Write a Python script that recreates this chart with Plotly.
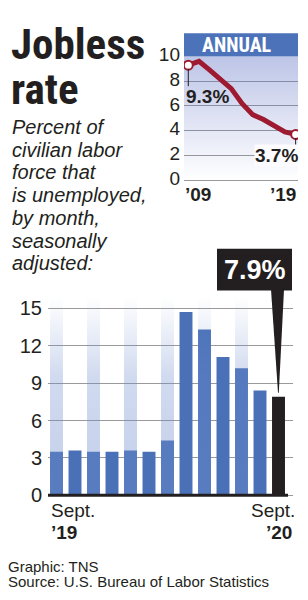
import plotly.graph_objects as go

W, H = 308, 600


def px(x):
    return x / W


def py(y):
    return 1 - y / H


# ---------------- data ----------------
annual_years = list(range(2009, 2020))
annual_rates = [9.3, 9.6, 8.9, 8.1, 7.4, 6.2, 5.3, 4.9, 4.4, 3.9, 3.7]
annual_tick_vals = [0, 2, 4, 6, 8, 10]
annual_x_labels = ["\u201909", "\u201919"]

months = ["Sep 2019", "Oct 2019", "Nov 2019", "Dec 2019", "Jan 2020", "Feb 2020",
          "Mar 2020", "Apr 2020", "May 2020", "Jun 2020", "Jul 2020", "Aug 2020", "Sep 2020"]
monthly_rates = [3.5, 3.6, 3.5, 3.5, 3.6, 3.5, 4.4, 14.7, 13.3, 11.1, 10.2, 8.4, 7.9]
monthly_tick_vals = [0, 3, 6, 9, 12, 15]
month_end_labels = [("Sept.", "\u201919"), ("Sept.", "\u201920")]
latest_label = "7.9%"
first_label = "9.3%"
last_label = "3.7%"

title_lines = ["Jobless", "rate"]
subtitle_lines = ["Percent of", "civilian labor", "force that", "is unemployed,",
                  "by month,", "seasonally", "adjusted:"]
credit_lines = ["Graphic: TNS", "Source: U.S. Bureau of Labor Statistics"]

# ---------------- styles ----------------
INK = "#231f20"
BLUE = "#4a71b8"
RED = "#9d1a30"
GRID = "#9a9a9a"
SANS = "Liberation Sans, Arial, Helvetica, sans-serif"
NARROW = "Liberation Sans Narrow, Arial Narrow, Roboto Condensed, Liberation Sans, sans-serif"

fig = go.Figure()

# ---------- monthly bar chart (x / y) ----------
idx = list(range(len(months)))
bw = 0.70
stripe_top = 15.9
for i in idx[0:11:2]:
    fig.add_trace(go.Scatter(
        x=[i - bw / 2, i + bw / 2, i + bw / 2, i - bw / 2, i - bw / 2],
        y=[0, 0, stripe_top, stripe_top, 0],
        mode="none", fill="toself", hoverinfo="skip", showlegend=False,
        fillgradient=dict(type="vertical",
                          colorscale=[[0, "rgba(110,140,205,0.42)"],
                                      [0.6, "rgba(110,140,205,0.32)"],
                                      [1, "rgba(110,140,205,0.0)"]]),
        xaxis="x", yaxis="y"))

bar_colors = [BLUE] * (len(months) - 1) + [INK]
fig.add_trace(go.Bar(x=idx, y=monthly_rates, width=bw, marker=dict(color=bar_colors, line=dict(width=0)),
                     showlegend=False, hoverinfo="skip", xaxis="x", yaxis="y"))

# ---------- annual line chart (x2 / y2) ----------
x2_range = [2008.6, 2019.22]
fig.add_trace(go.Scatter(
    x=[x2_range[0], x2_range[1], x2_range[1], x2_range[0], x2_range[0]],
    y=[0, 0, 10, 10, 0], mode="none", fill="toself", hoverinfo="skip", showlegend=False,
    fillgradient=dict(type="vertical",
                      colorscale=[[0, "rgba(90,110,195,0.0)"],
                                  [1, "rgba(90,110,195,0.40)"]]),
    xaxis="x2", yaxis="y2"))
fig.add_trace(go.Scatter(x=annual_years, y=annual_rates, mode="lines",
                         line=dict(color=RED, width=5), hoverinfo="skip", showlegend=False,
                         xaxis="x2", yaxis="y2"))
fig.add_trace(go.Scatter(x=[annual_years[0], annual_years[-1]], y=[annual_rates[0], annual_rates[-1]],
                         mode="markers", marker=dict(size=9, color="white", line=dict(color=RED, width=2)),
                         hoverinfo="skip", showlegend=False, xaxis="x2", yaxis="y2"))

shapes = []
annotations = []

# header band of the small chart
shapes.append(dict(type="rect", xref="paper", yref="paper", x0=px(184), x1=px(298), y0=py(46), y1=py(22),
                   fillcolor="#4c73ba", line=dict(width=0), layer="above"))
annotations.append(dict(xref="paper", yref="paper", x=px(237), y=py(34), text="<b>ANNUAL</b>",
                        showarrow=False, font=dict(family=NARROW, size=20, color="white"),
                        xanchor="center", yanchor="middle"))

# leader lines and labels of the small chart
shapes.append(dict(type="line", xref="x2", yref="y2", x0=annual_years[0], x1=annual_years[0],
                   y0=annual_rates[0] - 0.3, y1=7.6, line=dict(color=INK, width=1)))
annotations.append(dict(xref="x2", yref="y2", x=annual_years[0], y=6.8, text="<b>" + first_label + "</b>",
                        showarrow=False, xanchor="left", yanchor="middle", xshift=-4,
                        font=dict(family=SANS, size=19, color=INK)))
shapes.append(dict(type="line", xref="x2", yref="y2", x0=annual_years[-1], x1=annual_years[-1],
                   y0=annual_rates[-1] - 0.3, y1=2.7, line=dict(color=INK, width=1)))
annotations.append(dict(xref="x2", yref="y2", x=annual_years[-1], y=2.0, text="<b>" + last_label + "</b>",
                        showarrow=False, xanchor="right", yanchor="middle", xshift=3,
                        bgcolor="rgba(252,252,255,1)", borderpad=0,
                        font=dict(family=SANS, size=19, color=INK)))
annotations.append(dict(xref="paper", yref="paper", x=px(183), y=py(189), text="<b>" + annual_x_labels[0] + "</b>",
                        showarrow=False, xanchor="left", yanchor="middle",
                        font=dict(family=SANS, size=19, color=INK)))
annotations.append(dict(xref="paper", yref="paper", x=px(298), y=py(189), text="<b>" + annual_x_labels[1] + "</b>",
                        showarrow=False, xanchor="right", yanchor="middle",
                        font=dict(family=SANS, size=19, color=INK)))

# baseline of bar chart
shapes.append(dict(type="line", xref="paper", yref="paper", x0=px(48), x1=px(288), y0=py(500), y1=py(500),
                   line=dict(color=INK, width=3), layer="above"))

# callout for latest value
shapes.append(dict(type="rect", xref="paper", yref="paper", x0=px(217), x1=px(292), y0=py(288), y1=py(245),
                   fillcolor=INK, line=dict(width=0), layer="above"))
shapes.append(dict(type="path", xref="paper", yref="paper",
                   path=f"M {px(271)},{py(287)} L {px(284)},{py(287)} L {px(278.8)},{py(394)} L {px(278)},{py(394)} Z",
                   fillcolor=INK, line=dict(width=0), layer="above"))
annotations.append(dict(xref="paper", yref="paper", x=px(254.5), y=py(267), text="<b>" + latest_label + "</b>",
                        showarrow=False, xanchor="center", yanchor="middle",
                        font=dict(family=SANS, size=27, color="white")))

# bar chart end labels
for (m, yr), xa, xp in [(month_end_labels[0], "left", 49), (month_end_labels[1], "right", 297)]:
    annotations.append(dict(xref="paper", yref="paper", x=px(xp), y=py(516), text=m,
                            showarrow=False, xanchor=xa, yanchor="middle",
                            font=dict(family=SANS, size=19, color=INK)))
    annotations.append(dict(xref="paper", yref="paper", x=px(xp + (0 if xa == "left" else -3)), y=py(538),
                            text="<b>" + yr + "</b>",
                            showarrow=False, xanchor=xa, yanchor="middle",
                            font=dict(family=SANS, size=19, color=INK)))

# title
annotations.append(dict(xref="paper", yref="paper", x=px(9), y=py(33), text="<b>" + title_lines[0] + "</b>",
                        showarrow=False, xanchor="left", yanchor="middle",
                        font=dict(family=NARROW, size=43, color=INK)))
annotations.append(dict(xref="paper", yref="paper", x=px(9), y=py(80), text="<b>" + title_lines[1] + "</b>",
                        showarrow=False, xanchor="left", yanchor="middle",
                        font=dict(family=NARROW, size=43, color=INK)))

# subtitle
for k, line in enumerate(subtitle_lines):
    annotations.append(dict(xref="paper", yref="paper", x=px(10), y=py(119 + 23.5 * k), text="<i>" + line + "</i>",
                            showarrow=False, xanchor="left", yanchor="middle",
                            font=dict(family=SANS, size=20, color=INK)))

# credits
for k, line in enumerate(credit_lines):
    annotations.append(dict(xref="paper", yref="paper", x=px(6), y=py(574 + 15 * k), text=line,
                            showarrow=False, xanchor="left", yanchor="middle",
                            font=dict(family=SANS, size=15, color=INK)))

# axes geometry
bar_px0, bar_step = 56.5, 18.5
x_lo = 0 - (bar_px0 - 48) / bar_step
x_hi = 12 + (293 - (bar_px0 + 12 * bar_step)) / bar_step
y_unit = 12.9
y_bottom_val = -0.2
y_top_val = 16

fig.update_layout(
    width=W, height=H, margin=dict(l=0, r=0, t=0, b=0),
    paper_bgcolor="white", plot_bgcolor="rgba(0,0,0,0)",
    barmode="overlay", showlegend=False,
    font=dict(family=SANS, color=INK),
    xaxis=dict(domain=[px(48), px(293)], range=[x_lo, x_hi], showgrid=False, zeroline=False,
               showticklabels=False, ticks="", fixedrange=True),
    yaxis=dict(domain=[py(500 - y_bottom_val * y_unit), py(500 - y_top_val * y_unit)],
               range=[y_bottom_val, y_top_val], tickvals=monthly_tick_vals,
               showgrid=True, gridcolor=GRID, gridwidth=1.3, zeroline=False,
               tickfont=dict(family=SANS, size=20, color=INK), ticks="", ticklabelstandoff=5,
               fixedrange=True),
    xaxis2=dict(domain=[px(184), px(298)], range=x2_range, showgrid=False, zeroline=False,
                showticklabels=False, ticks="", anchor="y2", fixedrange=True),
    yaxis2=dict(domain=[py(174 + 0.2 * 12.8), py(46)], range=[-0.2, 10], tickvals=annual_tick_vals,
                showgrid=True, gridcolor=GRID, gridwidth=1.3, zeroline=False, anchor="x2",
                tickfont=dict(family=SANS, size=19, color=INK), ticks="", ticklabelstandoff=3,
                ticklabelshift=-2, fixedrange=True),
    shapes=shapes, annotations=annotations,
)

fig.write_html("out.html")
